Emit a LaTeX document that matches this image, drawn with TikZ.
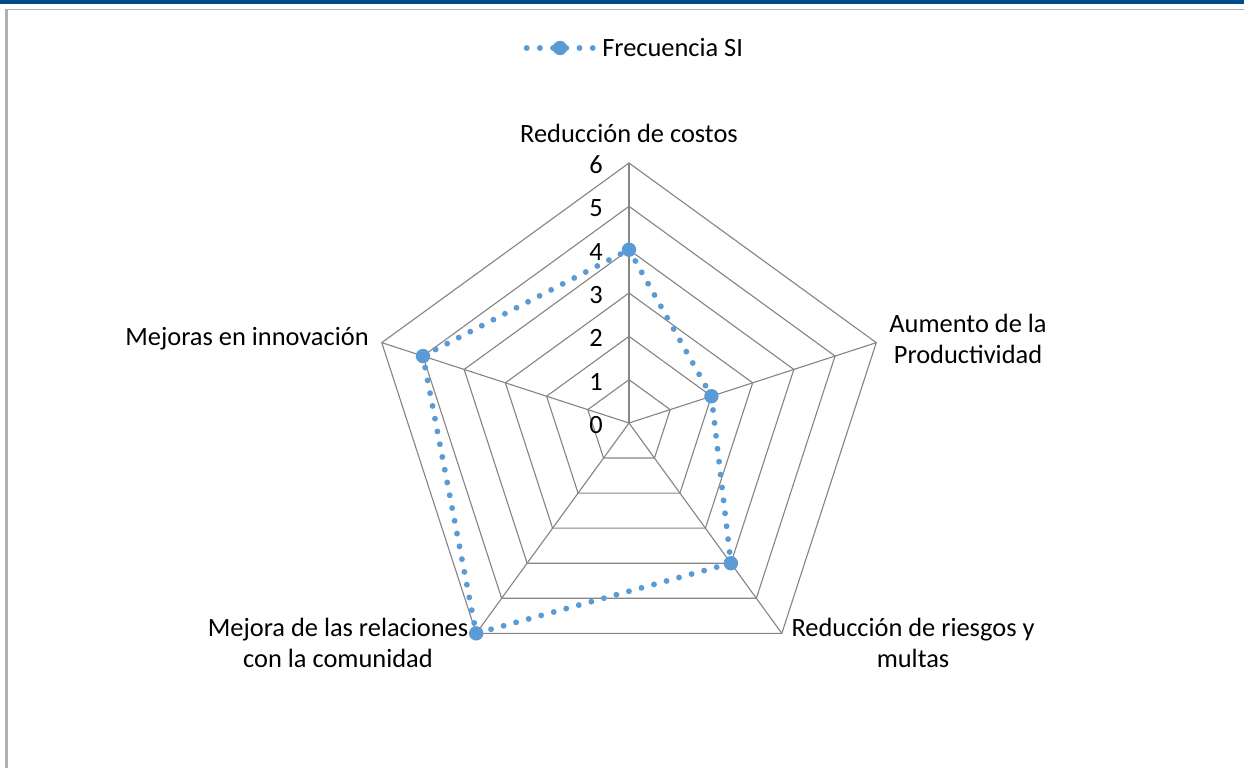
\documentclass[tikz,border=0pt]{standalone}
\usepackage{fontspec}
\setmainfont{Carlito}
\definecolor{serblue}{HTML}{5B9BD5}
\definecolor{gridgray}{HTML}{868686}
\definecolor{bordergray}{HTML}{B0B0B0}
\definecolor{barblue}{HTML}{004C88}
\begin{document}
\begin{tikzpicture}[x=0.75pt,y=-0.75pt,
  grid/.style={draw=gridgray,line width=0.85pt},
  series/.style={draw=serblue,line width=4.4pt,line cap=round,dash pattern=on 0pt off 9.75pt},
  legdots/.style={draw=serblue,line width=4.4pt,line cap=round,dash pattern=on 0pt off 9.9pt},
  marker/.style={circle,fill=serblue,inner sep=0pt,minimum size=10.8pt},
  lbl/.style={font=\fontsize{19.8}{23.5}\selectfont,align=center,inner sep=0pt}]
\useasboundingbox (0,0) rectangle (1244,768);
\fill[barblue] (0,0) rectangle (1244,3.5);
\draw[bordergray,line width=0.75pt] (6,9.5) -- (1244,9.5);
\draw[bordergray,line width=1.6pt] (6.5,9) -- (6.5,768);
\coordinate (c) at (629,423);
\foreach \i/\a in {1/-90,2/-18,3/54,4/126,5/198}{
  \foreach \l in {1,...,6}{
    \coordinate (v\i-\l) at ([shift={(\a:{43.33*\l})}]c);
  }
}
\foreach \l in {1,...,6}{
  \draw[grid] (v1-\l)--(v2-\l)--(v3-\l)--(v4-\l)--(v5-\l)--cycle;
}
\foreach \i in {1,...,5}{
  \draw[grid] (c)--(v\i-6);
}
\foreach \l in {0,...,6}{
  \node[lbl,anchor=east] (n\l) at (603,{425-43.33*\l}) {\l};
}
\draw[series] (v1-4)--(v2-2)--(v3-4)--(v4-6)--(v5-5)--cycle;
\node[marker] (m1) at (v1-4) {};
\node[marker] (m2) at (v2-2) {};
\node[marker] (m3) at (v3-4) {};
\node[marker] (m4) at (v4-6) {};
\node[marker] (m5) at (v5-5) {};
\node[lbl] (t1) at (629,133) {Reducción de costos};
\node[lbl] (t2) at (968,339) {Aumento de la\\Productividad};
\node[lbl] (t3) at (913,643) {Reducción de riesgos y\\multas};
\node[lbl] (t4) at (338,643) {Mejora de las relaciones\\con la comunidad};
\node[lbl] (t5) at (247,339) {Mejoras en innovación};
% legend
\coordinate (la) at (526.7,48);
\coordinate (ld) at (592.7,48);
\draw[legdots] (la)--(ld);
\node[marker] (lm) at (560,48) {};
\node[lbl,anchor=west] (lt) at (602,48) {Frecuencia SI};
\end{tikzpicture}
\end{document}
